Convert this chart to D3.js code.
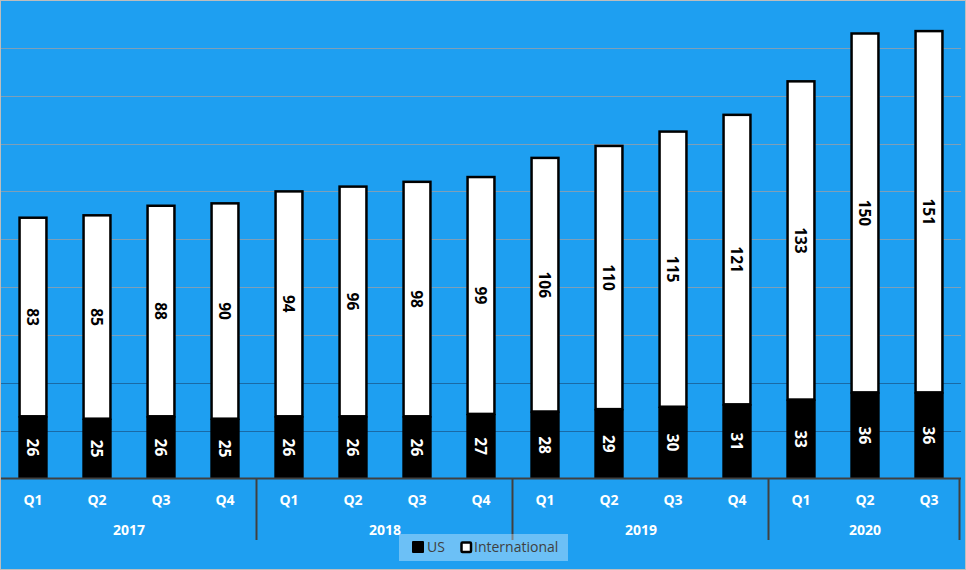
<!DOCTYPE html>
<html>
<head>
<meta charset="utf-8">
<script src="https://cdn.jsdelivr.net/npm/d3@7"></script>
<style>
  body { margin: 0; background: #fff; }
  svg { display: block; }
</style>
</head>
<body>
<div id="chart"></div>
<script>
const years = ["2017", "2018", "2019", "2020"];
const quarters = ["Q1","Q2","Q3","Q4","Q1","Q2","Q3","Q4","Q1","Q2","Q3","Q4","Q1","Q2","Q3"];
const yearOf = ["2017","2017","2017","2017","2018","2018","2018","2018","2019","2019","2019","2019","2020","2020","2020"];
const us = [26, 25, 26, 25, 26, 26, 26, 27, 28, 29, 30, 31, 33, 36, 36];
const intl = [83, 85, 88, 90, 94, 96, 98, 99, 106, 110, 115, 121, 133, 150, 151];
const yTicks = [20, 40, 60, 80, 100, 120, 140, 160, 180];

var width = 966, height = 570;
var base = 478.5;
var font = "'Open Sans', 'DejaVu Sans', sans-serif";

var svg = d3.select("#chart").append("svg")
  .attr("width", width).attr("height", height);

svg.append("rect").attr("x", 0.5).attr("y", 0.5)
  .attr("width", width - 1).attr("height", height - 1)
  .attr("fill", "#1e9ff1").attr("stroke", "#bdbdbd");

var keys = quarters.map(function(q, i) { return i; });

var x = d3.scaleBand().domain(keys).range([1, 961])
  .paddingInner(0.58).paddingOuter(0.29);
var y = d3.scaleLinear().domain([0, 200]).range([base, 0]);

// grid
svg.append("g").selectAll("line").data(yTicks).enter().append("line")
  .attr("x1", 1).attr("x2", 961)
  .attr("y1", function(d) { return Math.round(y(d)) + 0.5; })
  .attr("y2", function(d) { return Math.round(y(d)) + 0.5; })
  .attr("stroke", function(d) { return d <= 40 ? "#1a6aa6" : "#7e9fb8"; })
  .attr("stroke-width", 1);

var bars = svg.append("g").selectAll("g").data(keys).enter().append("g");

bars.append("rect")
  .attr("x", function(i) { return x(i); })
  .attr("y", function(i) { return y(us[i] + intl[i]); })
  .attr("width", x.bandwidth())
  .attr("height", function(i) { return y(us[i]) - y(us[i] + intl[i]); })
  .attr("fill", "#fff").attr("stroke", "#000").attr("stroke-width", 2.5);

bars.append("rect")
  .attr("x", function(i) { return x(i) - 1.25; })
  .attr("y", function(i) { return y(us[i]); })
  .attr("width", x.bandwidth() + 2.5)
  .attr("height", function(i) { return base - y(us[i]); })
  .attr("fill", "#000");

function vlabel(sel, ypos, txt, col) {
  sel.append("text")
    .attr("transform", function(i) {
      return "translate(" + (x(i) + x.bandwidth() / 2) + "," + ypos(i) + ")rotate(90)";
    })
    .attr("text-anchor", "middle").attr("dy", "0.36em")
    .style("font-family", font)
    .style("font-weight", "bold").style("font-size", "15.5px")
    .attr("fill", col)
    .text(txt);
}
vlabel(bars, function(i) { return y(us[i] / 2); }, function(i) { return us[i]; }, "#fff");
vlabel(bars, function(i) { return y(us[i] + intl[i] / 2); }, function(i) { return intl[i]; }, "#000");

// axis
var axis = svg.append("g");
axis.append("line").attr("x1", 1).attr("x2", 961)
  .attr("y1", base).attr("y2", base)
  .attr("stroke", "#404040").attr("stroke-width", 2);

var seps = [4, 8, 12, 15];
axis.selectAll(".sep").data(seps).enter().append("line")
  .attr("x1", function(k) { return Math.round(1 + k * x.step()) - 0.5 + (k === 15 ? -1 : 0); })
  .attr("x2", function(k) { return Math.round(1 + k * x.step()) - 0.5 + (k === 15 ? -1 : 0); })
  .attr("y1", base).attr("y2", 540)
  .attr("stroke", "#404040").attr("stroke-width", 2);

axis.selectAll(".q").data(keys).enter().append("text")
  .attr("x", function(i) { return x(i) + x.bandwidth() / 2; })
  .attr("y", 505)
  .attr("text-anchor", "middle")
  .style("font-family", font)
  .style("font-weight", "bold").style("font-size", "14px")
  .attr("fill", "#fff")
  .text(function(i) { return quarters[i]; });

axis.selectAll(".yr").data(years).enter().append("text")
  .attr("x", function(yr) {
    var idx = keys.filter(function(i) { return yearOf[i] === yr; });
    return (x(idx[0]) + x(idx[idx.length - 1]) + x.bandwidth()) / 2;
  })
  .attr("y", 535)
  .attr("text-anchor", "middle")
  .style("font-family", font)
  .style("font-weight", "bold").style("font-size", "14px")
  .attr("fill", "#fff")
  .text(function(d) { return d; });

// legend
var lg = svg.append("g");
lg.append("rect").attr("x", 399).attr("y", 534).attr("width", 169).attr("height", 27)
  .attr("fill", "#fff").attr("fill-opacity", 0.35);
lg.append("rect").attr("x", 412).attr("y", 541).attr("width", 12).attr("height", 12).attr("rx", 1)
  .attr("fill", "#000");
lg.append("text").attr("x", 427).attr("y", 552)
  .style("font-family", font).style("font-size", "14px")
  .attr("fill", "#404040").text("US");
lg.append("rect").attr("x", 461.5).attr("y", 542.5).attr("width", 9.5).attr("height", 9.5).attr("rx", 1)
  .attr("fill", "#fff").attr("stroke", "#000").attr("stroke-width", 2.5);
lg.append("text").attr("x", 474).attr("y", 552)
  .style("font-family", font).style("font-size", "14px")
  .attr("fill", "#404040").text("International");
</script>
</body>
</html>
